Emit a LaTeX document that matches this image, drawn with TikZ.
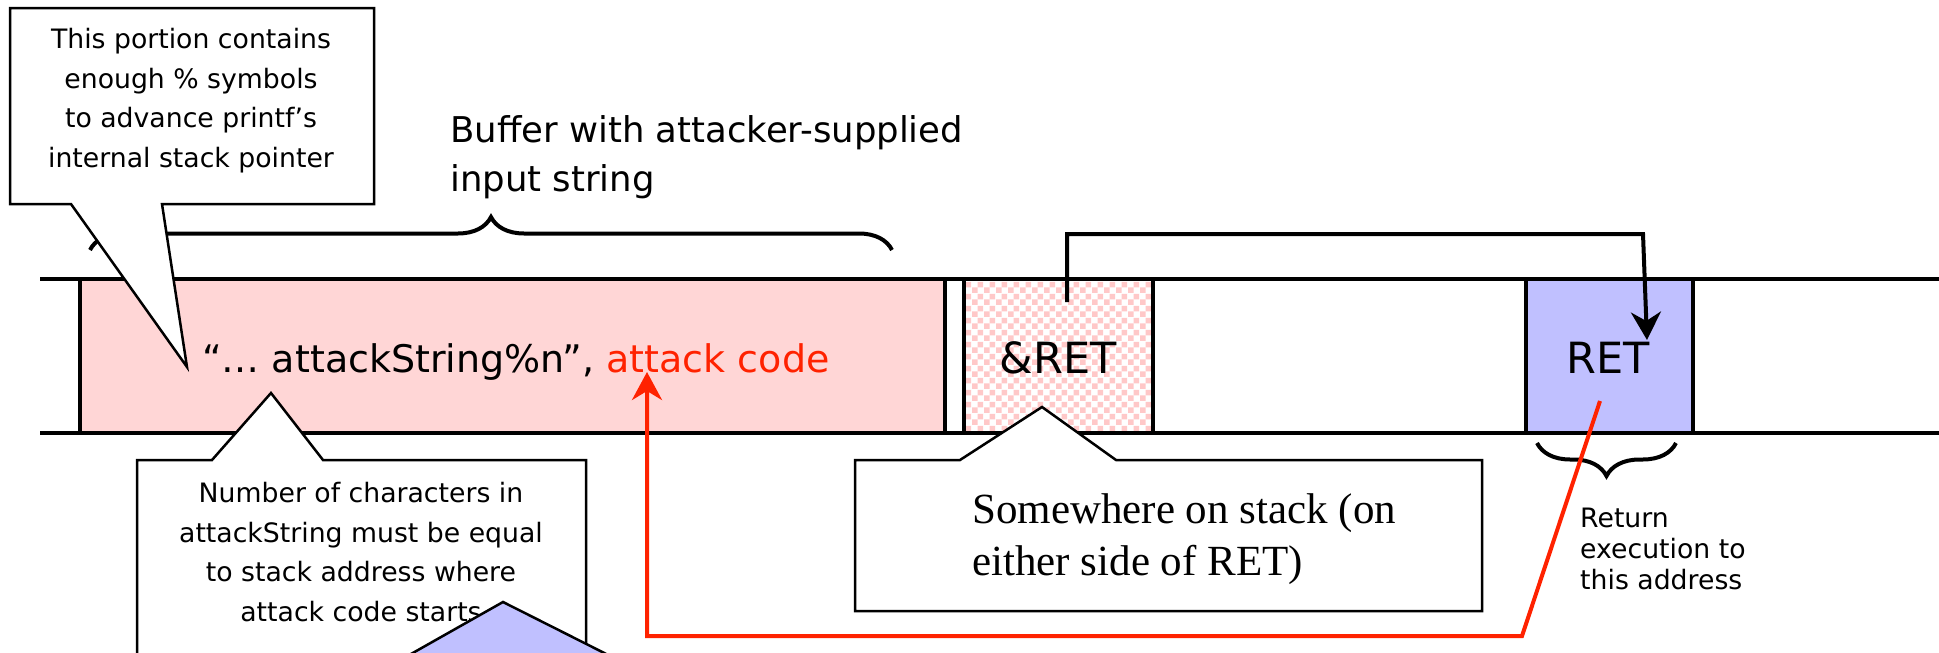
\documentclass[tikz,border=0pt]{standalone}
\usepackage{fontspec}
\setmainfont{DejaVu Sans}
\newfontfamily\serifface{Liberation Serif}
\usetikzlibrary{arrows.meta,decorations.pathreplacing,patterns.meta}
\definecolor{bufpink}{RGB}{255,214,214}
\definecolor{chkpink}{RGB}{255,200,200}
\definecolor{retblue}{RGB}{192,192,255}
\definecolor{arrowred}{RGB}{255,34,0}
\tikzdeclarepattern{
  name=chk,
  type=uncolored,
  bounding box={(0pt,0pt) and (12pt,12pt)},
  tile size={(12pt,12pt)},
  code={\fill (0pt,0pt) rectangle (6pt,6pt); \fill (6pt,6pt) rectangle (12pt,12pt);}
}
\begin{document}
\begin{tikzpicture}[x=1pt,y=-1pt,
  cell/.style={draw=black, line width=4pt, inner sep=0pt, outer sep=0pt, anchor=north west, minimum height=154pt},
  rail/.style={line width=4.5pt},
  callout/.style={draw=black, fill=white, line width=2.5pt, line join=miter},
  small/.style={font=\fontsize{26.7pt}{39.6pt}\selectfont, inner sep=0pt},
  big/.style={font=\fontsize{43pt}{50pt}\selectfont, inner sep=0pt},
  bracestyle/.style={line width=4pt, decorate, decoration={brace, amplitude=33pt}},
  tipstyle/.style={-{Stealth[length=28pt,width=30pt,inset=9pt]}},
  jumpline/.style={line width=4pt, line join=miter, tipstyle},
]
\clip (0,0) rectangle (1939,653);
% stack cells
\node[cell, fill=bufpink, minimum width=865pt] (buf) at (80,279) {};
\node[cell, preaction={fill=white}, pattern=chk, pattern color=chkpink, minimum width=189pt] (aret) at (964,279) {};
\node[cell, fill=retblue, minimum width=167pt] (ret) at (1526,279) {};
% rails
\coordinate (railTL) at (40,279);
\coordinate (railTR) at (1945,279);
\coordinate (railBL) at (40,433);
\coordinate (railBR) at (1945,433);
\draw[rail] (railTL) -- (railTR);
\draw[rail] (railBL) -- (railBR);
% texts in cells
\node[anchor=base west, inner sep=0pt, font=\fontsize{38pt}{44pt}\selectfont] (fmt) at (202,372)
  {“… attackString\%n”, \textcolor{arrowred}{attack code}};
\node[big, anchor=base] (aretlabel) at (1058,373) {\&RET};
\node[big, anchor=base] (retlabel) at (1608,373) {RET};
% buffer label and brace
\node[anchor=north west, align=left, inner sep=0pt, font=\fontsize{35.5pt}{49pt}\selectfont] (buflabel) at (450,115)
  {Buffer with attacker-supplied\\input string};
\coordinate (bbL) at (90,250);
\coordinate (bbR) at (892,250);
\draw[bracestyle] (bbL) -- (bbR);
% brace under RET
\coordinate (rbR) at (1676,443);
\coordinate (rbL) at (1537,443);
\draw[bracestyle] (rbR) -- (rbL);
\node[small, anchor=north west, align=left, font=\fontsize{26.7pt}{31pt}\selectfont] (retnote) at (1580,508)
  {Return\\execution to\\this address};
% top-left callout
\draw[callout] (10,8) -- (374,8) -- (374,204) -- (162,204) -- (187,367) -- (71,204) -- (10,204) -- cycle;
\node[small, anchor=north, align=center] (pctnote) at (191,28)
  {This portion contains\\enough \% symbols\\to advance printf’s\\internal stack pointer};
% bottom-left callout
\draw[callout] (137,690) -- (137,460) -- (212,460) -- (271,393) -- (323,460) -- (586,460) -- (586,690) -- cycle;
\node[small, anchor=north, align=center] (cntnote) at (361,482)
  {Number of characters in\\attackString must be equal\\to stack address where\\attack code starts};
% blue pointer at bottom
\draw[fill=retblue, line width=2.5pt, line join=miter] (388,667) -- (503,602) -- (632,667) -- cycle;
% middle callout
\draw[callout] (855,460) -- (960,460) -- (1042,407) -- (1116,460) -- (1482,460) -- (1482,611) -- (855,611) -- cycle;
\node[anchor=north west, align=left, inner sep=0pt, font=\serifface\fontsize{43pt}{52pt}\selectfont] (stacknote) at (972,493)
  {Somewhere on stack (on\\either side of RET)};
% black arrow from &RET to RET
\coordinate (blackstart) at (1067,302);
\coordinate (blackend) at (1647,340);
\draw[jumpline] (blackstart) -- (1067,234) -- (1643,234) -- (blackend);
% red arrow from RET to attack code
\coordinate (redstart) at (1600,401);
\coordinate (redtip) at (647,372);
\draw[jumpline, draw=arrowred] (redstart) -- (1522,636) -- (647,636) -- (redtip);
\end{tikzpicture}
\end{document}
